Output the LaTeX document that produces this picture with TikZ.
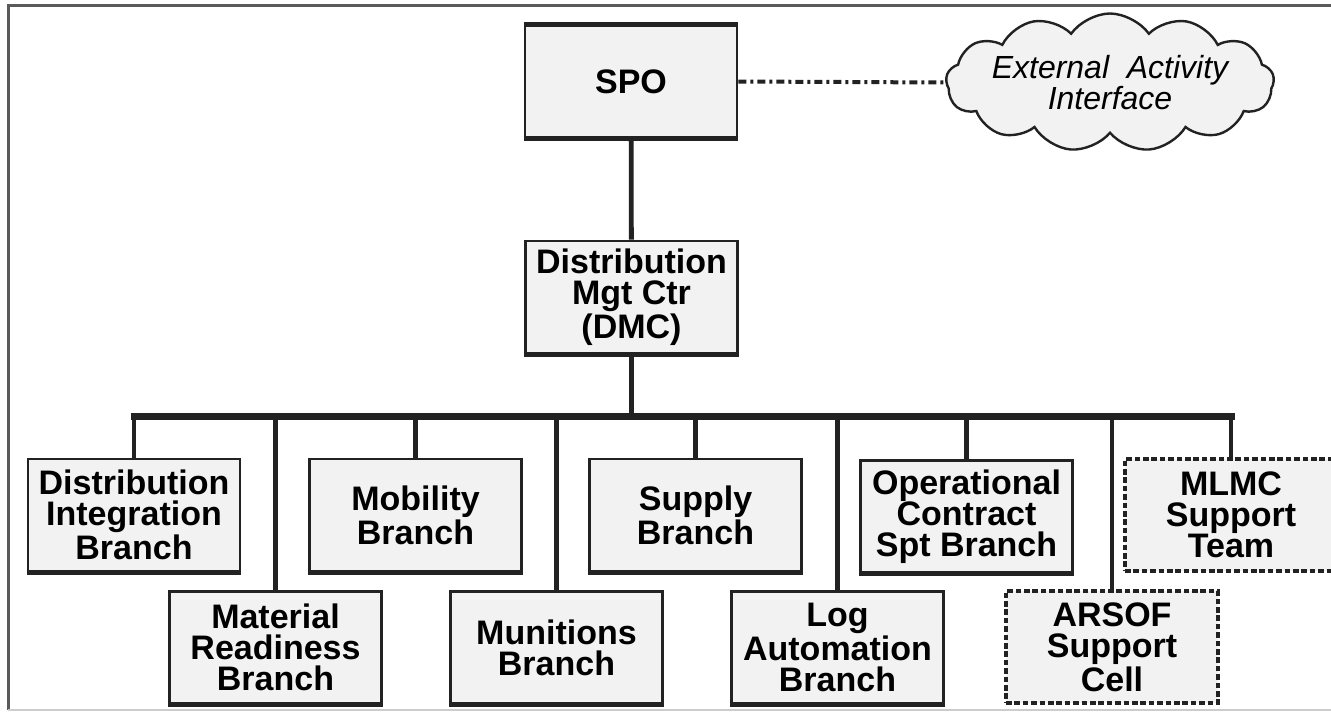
\documentclass[tikz,border=0pt]{standalone}
\usepackage{fontspec}
\setmainfont{Liberation Sans}
\usepackage{xcolor}
\usepackage{tikz}
\usetikzlibrary{positioning, shapes.symbols}
\definecolor{boxfill}{RGB}{242,242,242}
\definecolor{inkline}{RGB}{34,34,34}
\definecolor{framegray}{RGB}{90,90,90}

\tikzset{
  orgbox/.style={draw=inkline, line width=1.3pt, fill=boxfill, minimum width=106pt,
    minimum height=56pt, inner sep=1pt, align=center,
    font=\bfseries\fontsize{17}{15.5}\selectfont},
  unitbox/.style={orgbox, append after command={(\tikzlastnode.south west)
    edge[draw=inkline, line width=2.4pt] (\tikzlastnode.south east)}},
  headbox/.style={unitbox, append after command={(\tikzlastnode.north west)
    edge[draw=inkline, line width=2.4pt] (\tikzlastnode.north east)}},
  cellbox/.style={orgbox, line width=1.6pt, dash pattern=on 2.8pt off 1.4pt},
  feed/.style={draw=inkline, line width=2.4pt},
  busline/.style={draw=inkline, line width=3.5pt, line cap=rect},
  linkline/.style={draw=inkline, line width=2pt, dash pattern=on 4pt off 2pt on 1.5pt off 2pt},
}

\begin{document}
\begin{tikzpicture}[x=0.5pt, y=-0.5pt]
  \useasboundingbox (0,0) rectangle (1331,712);
  % frame
  \draw[framegray, line width=1.5pt] (1331,5) -- (8,5) -- (8,710);
  \draw[gray!40, line width=1pt] (8,710) -- (1331,710);

  % top of the chart
  \node[headbox] (spo) at (631,81.5) {SPO};
  \node[cloud, draw=inkline, fill=boxfill, line width=1.2pt, cloud puffs=13,
    cloud puff arc=110, aspect=2.4, inner xsep=-55pt, inner ysep=-13pt,
    minimum width=164pt, minimum height=69pt, align=center,
    font=\itshape\fontsize{16}{14}\selectfont]
    (ext) at (1110,82.5) {External\ \ Activity\\Interface};
  \node[unitbox] (dmc) at (631.5,297) {Distribution\\Mgt Ctr\\(DMC)};

  % branches
  \node[unitbox] (dib) at (134,515) {Distribution\\Integration\\Branch};
  \node[unitbox] (mob) at (415.5,515) {Mobility\\Branch};
  \node[unitbox] (sup) at (695.5,515) {Supply\\Branch};
  \node[unitbox] (ocs) at (966.5,516.5) {Operational\\Contract\\Spt Branch};
  \node[cellbox] (mlmc) at (1231,515) {MLMC\\Support\\Team};
  \node[unitbox] (mrb) at (275.5,647.5) {Material\\Readiness\\Branch};
  \node[unitbox] (mun) at (556.5,647.5) {Munitions\\Branch};
  \node[unitbox] (lab) at (837.5,647.5) {Log\\Automation\\Branch};
  \node[cellbox] (arsof) at (1112,647) {ARSOF\\Support\\Cell};

  % connectors
  \coordinate (bus) at (631.5,416);
  \draw[linkline] (spo.east) -- (ext.west);
  \draw[feed] (spo) -- (dmc);
  \draw[feed] (dmc) -- (bus);
  \draw[busline] (dib.north |- bus) -- (mlmc.north |- bus);
  \foreach \b in {dib,mrb,mob,mun,sup,lab,ocs,arsof,mlmc}
    \draw[feed] (\b.north) -- (\b.north |- bus);
\end{tikzpicture}
\end{document}
